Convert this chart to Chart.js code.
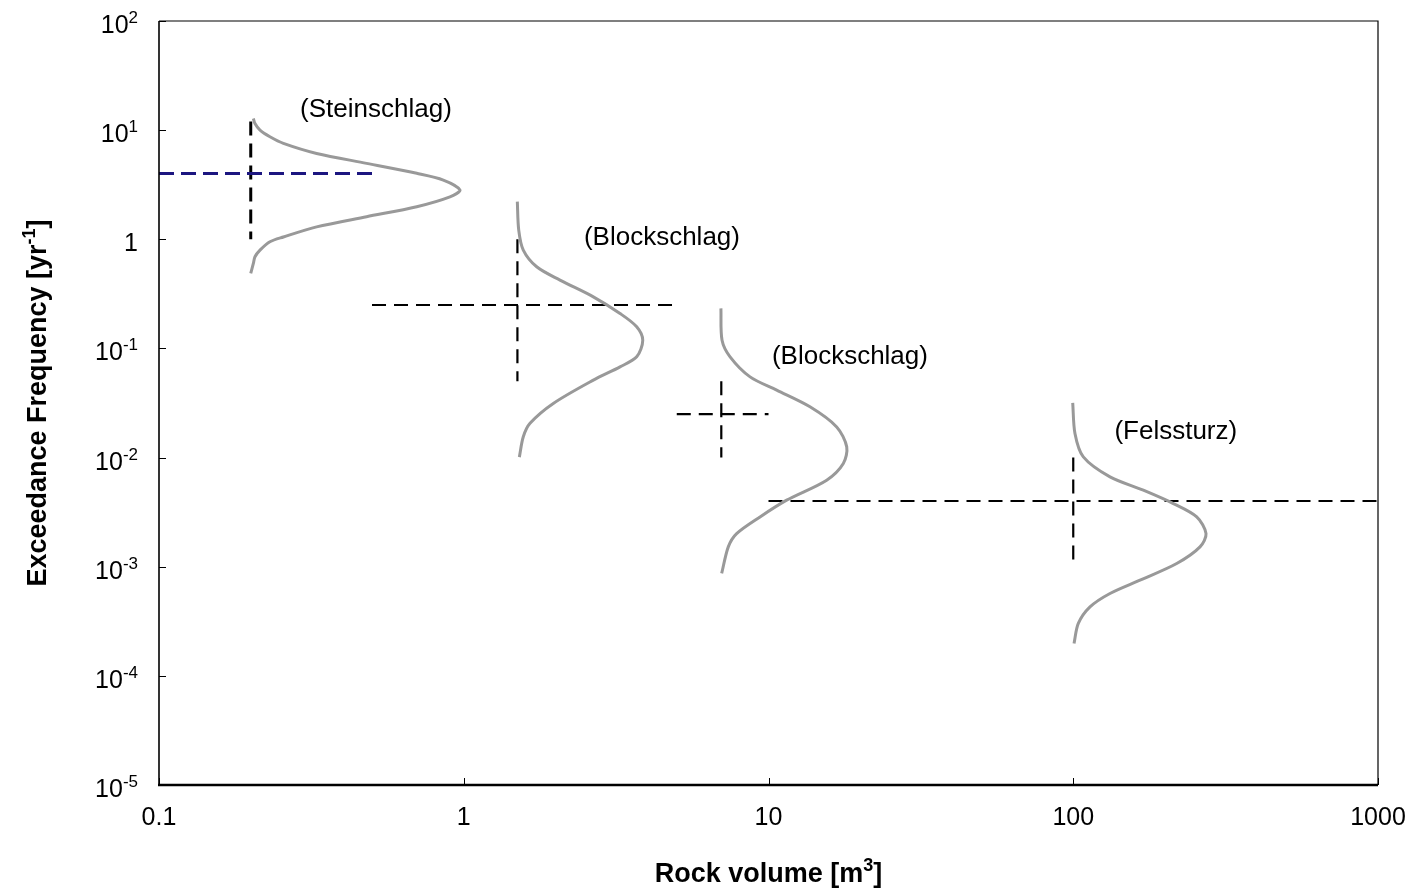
<!DOCTYPE html>
<html>
<head>
<meta charset="utf-8">
<title>Rock volume vs. exceedance frequency</title>
<script src="https://cdn.jsdelivr.net/npm/chart.js@4/dist/chart.umd.min.js"></script>
<style>
  html, body { margin: 0; padding: 0; background: #fff; }
  #wrap { width: 1421px; height: 891px; position: relative; }
</style>
</head>
<body>
<div id="wrap"><canvas id="rockChart"></canvas></div>
<script>
// Magnitude-frequency curves per process (volume in m3, frequency per year)

const steinVol = [0.204, 0.2065, 0.2145, 0.2312, 0.256, 0.329, 0.480, 0.701, 0.857, 0.972, 0.901, 0.701, 0.480, 0.329, 0.256, 0.2312, 0.2145, 0.2065, 0.204, 0.200];
const steinFreq = [12.8, 11.5, 10.0, 8.70, 7.57, 6.12, 4.96, 4.02, 3.49, 2.83, 2.45, 1.99, 1.61, 1.30, 1.05, 0.949, 0.796, 0.692, 0.601, 0.486];

const block1Vol = [1.499, 1.515, 1.568, 1.735, 2.069, 2.662, 3.257, 3.694, 3.867, 3.694, 3.257, 2.662, 1.967, 1.650, 1.568, 1.522];
const block1Freq = [2.21, 1.214, 0.796, 0.560, 0.423, 0.297, 0.209, 0.158, 0.119, 0.0838, 0.0678, 0.0512, 0.0313, 0.0206, 0.0155, 0.0101];

const block2Vol = [6.98, 7.04, 7.48, 8.70, 10.64, 13.68, 16.74, 18.06, 17.60, 15.52, 11.47, 9.38, 7.86, 7.38, 7.02];
const block2Freq = [0.233, 0.119, 0.0838, 0.0549, 0.0415, 0.0292, 0.0191, 0.01253, 0.00883, 0.00621, 0.00407, 0.00286, 0.00201, 0.00152, 0.000867];

const felsVol = [99.6, 101.3, 107.9, 132.0, 169.8, 213.0, 254.2, 272.7, 260.6, 218.5, 165.6, 132.0, 113.5, 103.9, 100.6];
const felsFreq = [0.0317, 0.01663, 0.01014, 0.00665, 0.00502, 0.00379, 0.00286, 0.00201, 0.00152, 0.00107, 0.000752, 0.000568, 0.000428, 0.000302, 0.000198];

// dashed crosses: horizontal frequency levels and vertical volume markers
const hLineFreq = [4, 0.25, 0.025, 0.004];
const hLineFrom = [0.1, 0.5, 5, 10];
const hLineTo = [0.5, 5, 10, 1000];
const vLineVol = [0.2, 1.5, 7, 100];
const vLineTop = [12, 1, 0.05, 0.01];
const vLineBottom = [1, 0.05, 0.01, 0.001];

// process names and where they sit
const labelText = ["(Steinschlag)", "(Blockschlag)", "(Blockschlag)", "(Felssturz)"];
const labelVol = [0.515, 4.47, 18.5, 217];
const labelFreq = [15.3, 1.03, 0.0832, 0.0171];

const xTicks = [0.1, 1, 10, 100, 1000];
const xTickLabels = ["0.1", "1", "10", "100", "1000"];
const yTicks = [100, 10, 1, 0.1, 0.01, 0.001, 0.0001, 0.00001];
const yTickBase = ["10", "10", "1", "10", "10", "10", "10", "10"];
const yTickExp = ["2", "1", "", "-1", "-2", "-3", "-4", "-5"];

const FONT = "'Liberation Sans', Arial, Helvetica, sans-serif";

function toPoints(xs, ys) {
    return xs.map(function (v, i) { return { x: v, y: ys[i] }; });
}

// text with superscript parts, e.g. [["10"], ["-1", true]]
function drawParts(ctx, parts, x, y, align, size, bold) {
    const w = bold ? "bold " : "";
    const supSize = Math.round(size * 0.66);
    let total = 0;
    parts.forEach(function (p) {
        ctx.font = w + (p[1] ? supSize : size) + "px " + FONT;
        p.w = ctx.measureText(p[0]).width;
        total += p.w;
    });
    let cx = align === "right" ? x - total : align === "center" ? x - total / 2 : x;
    ctx.textAlign = "left";
    ctx.textBaseline = "alphabetic";
    parts.forEach(function (p) {
        ctx.font = w + (p[1] ? supSize : size) + "px " + FONT;
        ctx.fillText(p[0], cx, p[1] ? y - size * 0.4 : y);
        cx += p.w;
    });
}

const datasets = [];
const curves = [[steinVol, steinFreq], [block1Vol, block1Freq], [block2Vol, block2Freq], [felsVol, felsFreq]];
curves.forEach(function (c) {
    datasets.push({
        data: toPoints(c[0], c[1]),
        borderColor: "#999999",
        borderWidth: 3,
        tension: 0.3,
        fill: false
    });
});
for (let i = 0; i < hLineFreq.length; i++) {
    datasets.push({
        data: [{ x: hLineFrom[i], y: hLineFreq[i] }, { x: hLineTo[i], y: hLineFreq[i] }],
        borderColor: i === 0 ? "#1c1680" : "#000000",
        borderWidth: i === 0 ? 3 : 2.2,
        borderDash: i === 0 ? [15, 7] : [14, 8],
        tension: 0
    });
    datasets.push({
        data: [{ x: vLineVol[i], y: vLineTop[i] }, { x: vLineVol[i], y: vLineBottom[i] }],
        borderColor: "#000000",
        borderWidth: i === 0 ? 3 : 2.2,
        borderDash: [14, 8],
        tension: 0
    });
}

// frame, inward ticks, y tick labels, axis titles and process names
const axisDecor = {
    id: "axisDecor",
    afterDraw: function (chart) {
        const ctx = chart.ctx;
        const a = chart.chartArea;
        const xs = chart.scales.x;
        const ys = chart.scales.y;
        ctx.save();
        ctx.strokeStyle = "#000";
        ctx.lineWidth = 1.2;
        ctx.beginPath();
        ctx.moveTo(a.left, a.top); ctx.lineTo(a.right, a.top); ctx.lineTo(a.right, a.bottom);
        ctx.stroke();
        ctx.lineWidth = 1.6;
        ctx.beginPath();
        ctx.moveTo(a.left, a.top); ctx.lineTo(a.left, a.bottom);
        ctx.stroke();
        ctx.lineWidth = 2.4;
        ctx.beginPath();
        ctx.moveTo(a.left - 1, a.bottom); ctx.lineTo(a.right, a.bottom);
        ctx.stroke();

        ctx.lineWidth = 1;
        ctx.beginPath();
        xTicks.forEach(function (v) {
            const px = Math.round(xs.getPixelForValue(v)) + 0.5;
            ctx.moveTo(px, a.bottom); ctx.lineTo(px, a.bottom - 7);
        });
        yTicks.forEach(function (v) {
            const py = Math.round(ys.getPixelForValue(v)) + 0.5;
            ctx.moveTo(a.left, py); ctx.lineTo(a.left + 7, py);
        });
        ctx.stroke();

        ctx.fillStyle = "#000";
        yTicks.forEach(function (v, i) {
            const py = ys.getPixelForValue(v);
            const parts = [[yTickBase[i]]];
            if (yTickExp[i]) parts.push([yTickExp[i], true]);
            drawParts(ctx, parts, a.left - 21, py + 12, "right", 25, false);
        });

        drawParts(ctx, [["Rock volume [m"], ["3", true], ["]"]], (a.left + a.right) / 2, 882, "center", 27, true);

        ctx.save();
        ctx.translate(46, (a.top + a.bottom) / 2);
        ctx.rotate(-Math.PI / 2);
        drawParts(ctx, [["Exceedance Frequency [yr"], ["-1", true], ["]"]], 0, 0, "center", 27, true);
        ctx.restore();

        ctx.font = "26px " + FONT;
        ctx.textAlign = "center";
        ctx.textBaseline = "middle";
        labelText.forEach(function (t, i) {
            ctx.fillText(t, xs.getPixelForValue(labelVol[i]), ys.getPixelForValue(labelFreq[i]));
        });
        ctx.restore();
    }
};

document.addEventListener("DOMContentLoaded", function () {
    new Chart("rockChart", {
        type: "line",
        data: { datasets: datasets },
        options: {
            responsive: true,
            maintainAspectRatio: false,
            animation: false,
            layout: { padding: { left: 159, right: 43, top: 21, bottom: 40 } },
            elements: { point: { radius: 0 } },
            plugins: {
                legend: { display: false },
                tooltip: { enabled: false }
            },
            scales: {
                x: {
                    type: "logarithmic",
                    min: 0.1,
                    max: 1000,
                    afterBuildTicks: function (s) { s.ticks = xTicks.map(function (v) { return { value: v }; }); },
                    // edge labels fit inside the page margins already
                    afterFit: function (s) { s.paddingLeft = 0; s.paddingRight = 0; },
                    ticks: {
                        autoSkip: false,
                        maxRotation: 0,
                        padding: 18,
                        color: "#000",
                        font: { family: FONT, size: 25 },
                        callback: function (v) { return xTickLabels[xTicks.indexOf(v)]; }
                    },
                    grid: { display: false, drawTicks: false },
                    border: { display: false }
                },
                y: {
                    type: "logarithmic",
                    min: 0.00001,
                    max: 100,
                    ticks: { display: false },
                    grid: { display: false, drawTicks: false },
                    border: { display: false }
                }
            }
        },
        plugins: [axisDecor]
    });
});
</script>
</body>
</html>
